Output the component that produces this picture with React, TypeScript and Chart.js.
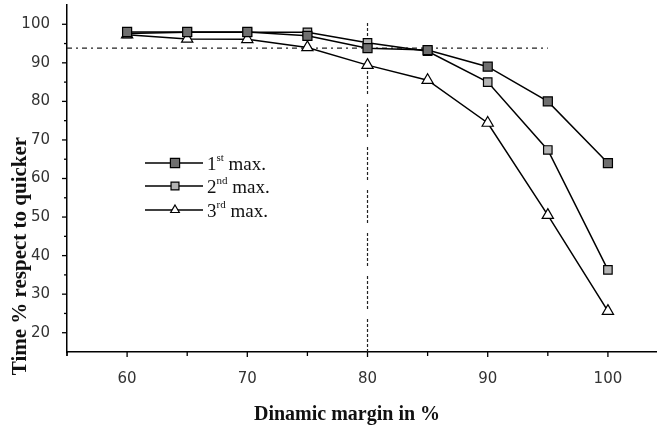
import React, { useEffect, useRef } from 'react';
import { Chart, registerables } from 'chart.js';
import { drawPoint } from 'chart.js/helpers';

Chart.register(...registerables);

const margins = [60, 65, 70, 75, 80, 85, 90, 95, 100];
const firstMax = [98, 98, 98, 97, 93.8, 93.3, 89, 80, 64];
const secondMax = [97.6, 97.9, 97.9, 97.9, 95.2, 93, 85, 67.4, 36.3];
const thirdMax = [97.3, 96.2, 96.1, 94, 89.4, 85.5, 74.4, 50.5, 25.6];
const seriesNumbers = ['1', '2', '3'];
const seriesSuffixes = ['st', 'nd', 'rd'];
const seriesWord = ' max.';
const refHorizontal = [
  { x: 55, y: 93.8 },
  { x: 95, y: 93.8 },
];
const refVertical = [
  { x: 80, y: 15 },
  { x: 80, y: 100.5 },
];
const xTitle = 'Dinamic margin in %';
const yTitle = 'Time % respect to quicker';

const toPoints = (vals: number[]) => margins.map((m, i) => ({ x: m, y: vals[i] }));

const styles = [
  { pointStyle: 'rect', fill: '#6f6f6f', radius: 6.4, legendRadius: 6.5 },
  { pointStyle: 'rect', fill: '#b4b4b4', radius: 6, legendRadius: 5.6 },
  { pointStyle: 'triangle', fill: '#ffffff', radius: 6.5, legendRadius: 5 },
];

const decorPlugin = {
  id: 'decor',
  afterDraw(chart: any) {
    const { ctx, chartArea, scales } = chart;
    const x = scales.x;
    const y = scales.y;
    ctx.save();
    ctx.strokeStyle = '#000';
    ctx.lineWidth = 1.3;
    ctx.setLineDash([]);
    for (let v = 55; v <= 100; v += 5) {
      const px = x.getPixelForValue(v);
      const len = v % 10 === 0 ? 5 : 4;
      ctx.beginPath();
      ctx.moveTo(px, chartArea.bottom);
      ctx.lineTo(px, chartArea.bottom + len);
      ctx.stroke();
    }
    for (let v = 20; v <= 100; v += 5) {
      const py = y.getPixelForValue(v);
      const len = v % 10 === 0 ? 5 : 3;
      ctx.beginPath();
      ctx.moveTo(chartArea.left, py);
      ctx.lineTo(chartArea.left - len, py);
      ctx.stroke();
    }
    ctx.beginPath();
    ctx.moveTo(chartArea.left, chartArea.bottom);
    ctx.lineTo(chartArea.left, chartArea.bottom + 4);
    ctx.stroke();

    ctx.fillStyle = '#111';
    ctx.font = 'bold 20px "Liberation Serif"';
    ctx.textAlign = 'center';
    ctx.textBaseline = 'alphabetic';
    ctx.fillText(xTitle, 347, 420);
    ctx.save();
    ctx.translate(26, 256);
    ctx.rotate(-Math.PI / 2);
    ctx.font = 'bold 21px "Liberation Serif"';
    ctx.fillText(yTitle, 0, 0);
    ctx.restore();

    const rowY = [163, 186, 210];
    for (let i = 0; i < 3; i++) {
      const ry = rowY[i];
      ctx.strokeStyle = '#000';
      ctx.lineWidth = 1.4;
      ctx.beginPath();
      ctx.moveTo(145, ry);
      ctx.lineTo(203, ry);
      ctx.stroke();
      ctx.fillStyle = styles[i].fill;
      ctx.lineWidth = 1.2;
      drawPoint(ctx, { pointStyle: styles[i].pointStyle, radius: styles[i].legendRadius, rotation: 0, borderWidth: 1.2 } as any, 175, ry);
      ctx.fillStyle = '#111';
      ctx.textAlign = 'left';
      ctx.font = '19px "Liberation Serif"';
      let tx = 207;
      ctx.fillText(seriesNumbers[i], tx, ry + 7);
      tx += ctx.measureText(seriesNumbers[i]).width;
      ctx.font = '11px "Liberation Serif"';
      ctx.fillText(seriesSuffixes[i], tx, ry - 2);
      tx += ctx.measureText(seriesSuffixes[i]).width;
      ctx.font = '19px "Liberation Serif"';
      ctx.fillText(seriesWord, tx, ry + 7);
    }
    ctx.restore();
  },
};

export default function App() {
  const ref = useRef<HTMLCanvasElement>(null);
  useEffect(() => {
    document.body.style.margin = '0';
    const seriesData = [firstMax, secondMax, thirdMax];
    const datasets: any[] = seriesData.map((vals, i) => ({
      data: toPoints(vals),
      borderColor: '#000',
      borderWidth: 1.5,
      backgroundColor: styles[i].fill,
      pointBackgroundColor: styles[i].fill,
      pointBorderColor: '#000',
      pointBorderWidth: 1.2,
      pointStyle: styles[i].pointStyle,
      pointRadius: styles[i].radius,
      fill: false,
      tension: 0,
    }));
    datasets.push({
      data: refHorizontal,
      borderColor: '#222',
      borderWidth: 1.2,
      borderDash: [5, 4, 2, 4],
      pointRadius: 0,
      fill: false,
    });
    datasets.push({
      data: refVertical,
      borderColor: '#222',
      borderWidth: 1.2,
      borderDash: [3, 2, 3, 2, 3, 2, 3, 2, 3, 2, 3, 2, 3, 10],
      pointRadius: 0,
      fill: false,
    });
    const chart = new Chart(ref.current!, {
      type: 'line',
      data: { datasets },
      plugins: [decorPlugin],
      options: {
        animation: false,
        responsive: true,
        maintainAspectRatio: false,
        layout: { autoPadding: false, padding: { top: 5, right: 1, left: 0, bottom: 0 } },
        plugins: { legend: { display: false }, tooltip: { enabled: false } },
        scales: {
          x: {
            type: 'linear',
            min: 55,
            max: 104,
            afterFit: (s: any) => {
              s.height = 75;
              s.paddingLeft = 0;
              s.paddingRight = 0;
            },
            grid: { display: false },
            border: { display: true, color: '#000', width: 1.5 },
            ticks: {
              stepSize: 5,
              padding: 10,
              color: '#333',
              font: { family: '"DejaVu Sans"', size: 15 },
              callback: (v: any) => (v % 10 === 0 && v >= 60 && v <= 100 ? String(v) : ''),
              maxRotation: 0,
              autoSkip: false,
            },
          },
          y: {
            type: 'linear',
            min: 15,
            max: 105,
            afterFit: (s: any) => {
              s.width = 67;
              s.paddingTop = 0;
              s.paddingBottom = 0;
            },
            grid: { display: false },
            border: { display: true, color: '#000', width: 1.5 },
            ticks: {
              stepSize: 5,
              padding: 9,
              color: '#333',
              font: { family: '"DejaVu Sans"', size: 15 },
              callback: (v: any) => (v % 10 === 0 && v >= 20 && v <= 100 ? String(v) : ''),
              autoSkip: false,
            },
          },
        },
      },
    });
    return () => chart.destroy();
  }, []);
  return (
    <div style={{ position: 'fixed', left: 0, top: 0, width: 657, height: 427, background: '#fff' }}>
      <canvas ref={ref} />
    </div>
  );
}
